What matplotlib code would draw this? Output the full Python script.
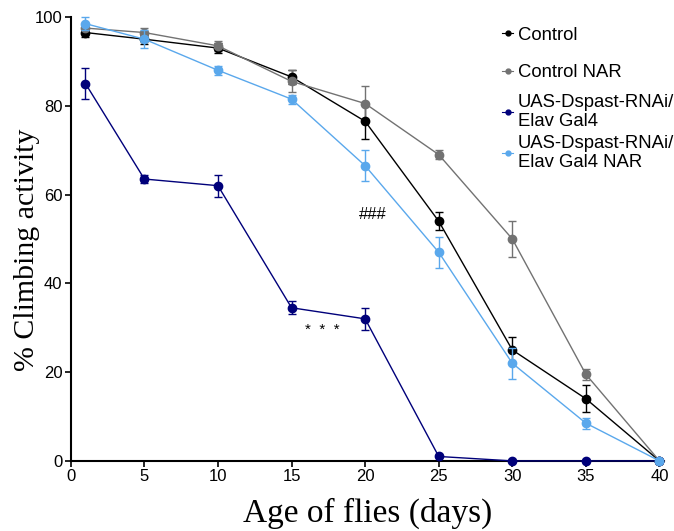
import matplotlib
matplotlib.use("Agg")
import matplotlib.pyplot as plt
from matplotlib.lines import Line2D
from matplotlib.legend import Legend

days = [1, 5, 10, 15, 20, 25, 30, 35, 40]

control = [96.5, 95, 93, 86.5, 76.5, 54, 25, 14, 0]
control_err = [1, 1, 1.2, 1.5, 4, 2, 3, 3, 0]

control_nar = [97.5, 96.5, 93.5, 85.5, 80.5, 69, 50, 19.5, 0]
control_nar_err = [1, 1, 1.2, 2.5, 4, 1, 4, 1.2, 0]

rnai = [85, 63.5, 62, 34.5, 32, 1, 0, 0, 0]
rnai_err = [3.5, 1, 2.5, 1.5, 2.5, 0, 0, 0, 0]

rnai_nar = [98.5, 95, 88, 81.5, 66.5, 47, 22, 8.5, 0]
rnai_nar_err = [1.5, 2, 1, 1, 3.5, 3.5, 3.5, 1.2, 0]

labels = ["Control", "Control NAR", "UAS-Dspast-RNAi/\nElav Gal4", "UAS-Dspast-RNAi/\nElav Gal4 NAR"]
colors = ["#000000", "#727272", "#00007a", "#5aa8ec"]

fig = plt.figure(figsize=(6.74, 5.31), dpi=100)
ax = fig.add_axes([0.105, 0.132, 0.88, 0.836])

series = [(control, control_err), (control_nar, control_nar_err), (rnai, rnai_err), (rnai_nar, rnai_nar_err)]
order = [2, 3, 1, 0]
for i in order:
    y, e = series[i]
    ax.errorbar(days, y, yerr=e, color=colors[i], marker='o', markersize=6,
                linewidth=1, elinewidth=1, capsize=3, capthick=1, zorder=3 + i * 0.1)

ax.set_xlim(0, 40.3)
ax.set_ylim(0, 100)
ax.set_xticks([0, 5, 10, 15, 20, 25, 30, 35, 40])
ax.set_yticks([0, 20, 40, 60, 80, 100])
for s in ["top", "right"]:
    ax.spines[s].set_visible(False)
for s in ["left", "bottom"]:
    ax.spines[s].set_linewidth(1.5)
ax.tick_params(axis="both", labelsize=12, width=1.2, length=4, direction="out", pad=2)
for lab in ax.get_xticklabels() + ax.get_yticklabels():
    lab.set_fontfamily("Liberation Sans")
for line in ax.get_lines():
    line.set_clip_on(False)

ax.set_xlabel("Age of flies (days)", fontfamily="Liberation Serif", fontsize=24, labelpad=10)
ax.set_ylabel("% Climbing activity", fontfamily="Liberation Serif", fontsize=21.5)
ax.yaxis.set_label_coords(-0.052, 0.475)

ax.text(20.5, 55.5, "###", ha="center", va="center", fontsize=12, fontfamily="Liberation Sans")
ax.text(17.1, 29.5, "*  *  *", ha="center", va="center", fontsize=11, fontfamily="Liberation Sans")

# legend entries placed individually (evenly spaced centres as in the reference)
legend_y = [0.959, 0.874, 0.786, 0.694]
for c, lab, yy in zip(colors, labels, legend_y):
    h = Line2D([], [], color=c, marker='o', linestyle='-', linewidth=0.8, markersize=3.5)
    lg = Legend(ax, [h], [lab], loc="center left", bbox_to_anchor=(0.727, yy), frameon=False,
                prop={"family": "Liberation Sans", "size": 13.3}, handletextpad=0.25,
                handlelength=0.6, borderaxespad=0, borderpad=0)
    ax.add_artist(lg)

fig.savefig("out.png", dpi=100)
